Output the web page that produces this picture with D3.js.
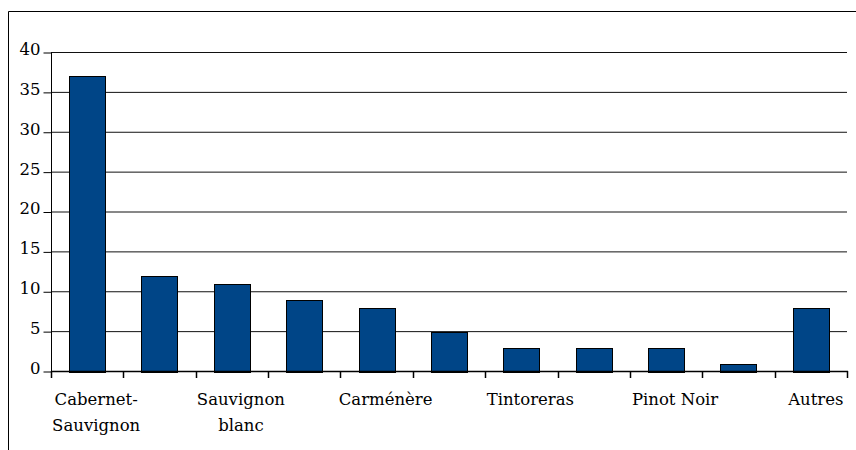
<!DOCTYPE html>
<html><head><meta charset="utf-8">
<script src="https://cdn.jsdelivr.net/npm/d3@7"></script>
<style>html,body{margin:0;padding:0;background:#fff;}</style>
</head><body>
<script>
const categories = ["Cabernet-Sauvignon","Merlot","Sauvignon blanc","Chardonnay","Carménère","Syrah","Tintoreras","Malbec","Pinot Noir","Cabernet Franc","Autres"];
const labelLines = [["Cabernet-","Sauvignon"],[],["Sauvignon","blanc"],[],["Carménère"],[],["Tintoreras"],[],["Pinot Noir"],[],["Autres"]];
const values = [37,12,11,9,8,5,3,3,3,1,8];
const yTicks = [0,5,10,15,20,25,30,35,40];

const W=856,H=450;
const svg=d3.select("body").append("svg").attr("width",W).attr("height",H);
const font="'DejaVu Serif', serif";

// outer frame (top and left visible)
svg.append("path").attr("d",`M8.5,${H+5}V11.5H${W+5}`).attr("fill","none").attr("stroke","#000").attr("stroke-width",1);

const x=d3.scaleBand().domain(categories).range([51,847]).paddingInner(0.5).paddingOuter(0.25);
const y=d3.scaleLinear().domain([0,40]).range([371.5,52.5]);

// gridlines
svg.append("g").selectAll("line").data(yTicks.filter(d=>d>0)).join("line")
  .attr("x1",51).attr("x2",847).attr("y1",d=>y(d)).attr("y2",d=>y(d))
  .attr("stroke","#111").attr("stroke-width",1);

// bars
svg.append("g").selectAll("rect").data(values).join("rect")
  .attr("x",(d,i)=>Math.round(x(categories[i]))+0.5)
  .attr("y",d=>Math.round(y(d))+0.5)
  .attr("width",Math.round(x.bandwidth()))
  .attr("height",d=>Math.round(y(0))-Math.round(y(d)))
  .attr("fill","#004587").attr("stroke","#000").attr("stroke-width",1);

// y axis
const yAxis=d3.axisLeft(y).tickValues(yTicks).tickSize(8).tickPadding(3).tickFormat(d3.format("d"));
const gy=svg.append("g").attr("transform","translate(51.5,0)").call(yAxis);
gy.select(".domain").attr("stroke","#000").attr("d","M0,371.5V52.5");
gy.selectAll(".tick line").attr("stroke","#000");
gy.selectAll(".tick text").attr("font-family",font).attr("font-size",16.5).attr("fill","#000")
  .attr("dy","0.12em");

// x axis line and ticks at band boundaries
const boundaries=categories.map(c=>x(c)-x.step()*x.paddingInner()/2);
boundaries.push(x(categories[categories.length-1])+x.bandwidth()+x.step()*x.paddingInner()/2);
const gx=svg.append("g");
gx.append("line").attr("x1",51).attr("x2",848).attr("y1",371.5).attr("y2",371.5).attr("stroke","#000").attr("stroke-width",1.5);
gx.selectAll("line.t").data(boundaries).join("line").attr("class","t")
  .attr("x1",d=>Math.round(d)+0.5).attr("x2",d=>Math.round(d)+0.5).attr("y1",371).attr("y2",378)
  .attr("stroke","#000").attr("stroke-width",1.5);

// category labels
const lg=svg.append("g");
labelLines.forEach((lines,i)=>{
  const cx=x(categories[i])+x.bandwidth()/2+(i===categories.length-1?5:9);
  lines.forEach((t,j)=>{
    lg.append("text").attr("x",cx).attr("y",405+j*25.5).attr("text-anchor","middle")
      .attr("font-family",font).attr("font-size",16.5).attr("fill","#000").text(t);
  });
});
</script>
</body></html>
